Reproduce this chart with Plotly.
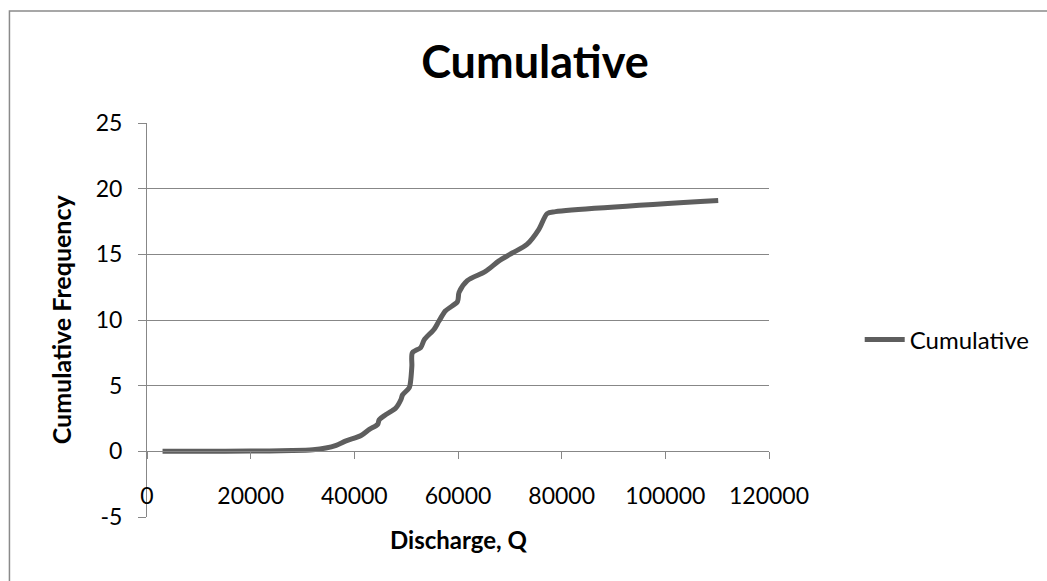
import plotly.graph_objects as go

# Data
discharge = [3000, 10000, 20000, 28000, 32000, 34500, 36500, 38400, 41300, 42900,
             44500, 44800, 46100, 48000, 49000, 49300, 50600, 50900, 51100, 51200,
             52800, 53500, 55400, 56300, 57600, 59900, 60200, 61800, 65300, 67900,
             70450, 73300, 75600, 77200, 78800, 110200]
cumulative = [0, 0, 0.02, 0.06, 0.12, 0.25, 0.46, 0.8, 1.2, 1.67,
              2.05, 2.4, 2.8, 3.3, 3.95, 4.3, 4.85, 5.5, 6.5, 7.5,
              7.9, 8.5, 9.3, 9.9, 10.7, 11.4, 12.1, 13.0, 13.7, 14.5,
              15.1, 15.75, 16.9, 18.1, 18.25, 19.1]

series_name = "Cumulative"
chart_title = "Cumulative"
x_title = "Discharge, Q"
y_title = "Cumulative Frequency"
x_ticks = [0, 20000, 40000, 60000, 80000, 100000, 120000]
y_ticks = [-5, 0, 5, 10, 15, 20, 25]

W, H = 1047, 581
L, R, T, B = 147, 276, 123, 64
pw = W - L - R
ph = H - T - B

def px_x(p):
    return (p - L) / pw

def px_y(p):
    return (H - B - p) / ph

grid = "#878787"
line_col = "#5e5e5e"
FONT = "Lato"

fig = go.Figure()
fig.add_trace(go.Scatter(
    x=discharge, y=cumulative, mode="lines", name=series_name,
    line=dict(color=line_col, width=5, shape="spline", smoothing=0.8),
))

fig.update_layout(
    width=W, height=H, autosize=False,
    margin=dict(l=L, r=R, t=T, b=B),
    paper_bgcolor="white", plot_bgcolor="white",
    font=dict(family=FONT, color="black", size=23),
    title=dict(text=chart_title, x=535 / W, xanchor="center", xref="container",
               y=1 - 62 / H, yanchor="middle", yref="container",
               font=dict(family=FONT, size=45, weight="bold", color="black")),
    showlegend=True,
    legend=dict(x=px_x(862), xanchor="left", y=px_y(340), yanchor="middle",
                font=dict(family=FONT, size=24, color="black"),
                bgcolor="rgba(0,0,0,0)", itemwidth=40),
    xaxis=dict(range=[0, 120000], tickvals=x_ticks, ticktext=[str(v) for v in x_ticks],
               showgrid=False, zeroline=False, showline=True, linecolor=grid, linewidth=1,
               ticks="outside", ticklen=7, tickcolor=grid, tickwidth=1,
               anchor="free", position=1 / 6, ticklabelstandoff=17,
               tickfont=dict(family=FONT, size=23, color="black")),
    yaxis=dict(range=[-5, 25], tickvals=y_ticks, ticktext=[str(v) for v in y_ticks],
               showgrid=True, gridcolor=grid, gridwidth=1, zeroline=False,
               showline=True, linecolor=grid, linewidth=1,
               ticks="outside", ticklen=8, tickcolor=grid, tickwidth=1,
               ticklabelstandoff=11,
               tickfont=dict(family=FONT, size=23, color="black")),
    annotations=[
        dict(text=f"<b>{x_title}</b>", xref="paper", yref="paper",
             x=px_x(460), y=px_y(539), xanchor="center", yanchor="middle",
             showarrow=False, font=dict(family=FONT, size=24, color="black")),
        dict(text=f"<b>{y_title}</b>", xref="paper", yref="paper",
             x=px_x(61), y=px_y(319), xanchor="center", yanchor="middle",
             textangle=-90, showarrow=False,
             font=dict(family=FONT, size=25, color="black")),
    ],
    shapes=[
        dict(type="rect", xref="paper", yref="paper",
             x0=px_x(9), x1=px_x(1080), y0=px_y(620), y1=px_y(11),
             line=dict(color="#8a8a8a", width=1.5), fillcolor="rgba(0,0,0,0)",
             layer="below"),
    ],
)

fig.write_html("out.html")
